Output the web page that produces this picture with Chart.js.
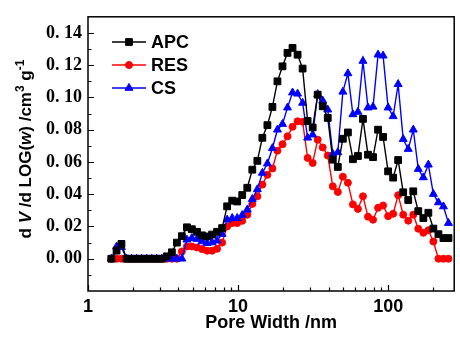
<!DOCTYPE html>
<html lang="en">
<head>
    <meta charset="UTF-8">
    <title>Pore Size Distribution</title>
    <script src="https://cdn.jsdelivr.net/npm/chart.js"></script>
    <style>
        html, body {
            margin: 0;
            padding: 0;
            background: #fff;
        }
        #chart {
            display: block;
        }
    </style>
</head>
<body>
    <canvas id="chart" width="460" height="338"></canvas>
    <script>
        // pore widths (nm)
        const poreWidth = [1.43, 1.55, 1.67, 1.81, 1.95, 2.11, 2.28, 2.46, 2.66, 2.87,
            3.10, 3.35, 3.62, 3.91, 4.22, 4.56, 4.92, 5.32, 5.75, 6.21,
            6.71, 7.24, 7.82, 8.45, 9.13, 9.86, 10.65, 11.51, 12.43, 13.43,
            14.50, 15.67, 16.92, 18.28, 19.75, 21.33, 23.04, 24.89, 26.89, 29.04,
            31.37, 33.89, 36.61, 39.54, 42.71, 46.14, 49.84, 53.84, 58.16, 62.82,
            67.86, 73.30, 79.18, 85.53, 92.39, 99.80, 107.8, 116.4, 125.8, 135.9,
            146.8, 158.5, 171.3, 185.0, 199.8, 215.9, 233.2, 251.9];

        const apc = [0, 0.005, 0.0092, 0, 0, 0, 0, 0, 0, 0,
            0, 0.0015, 0.004, 0.010, 0.014, 0.0195, 0.0183, 0.0167, 0.0145, 0.0138,
            0.015, 0.0167, 0.019, 0.0325, 0.036, 0.0355, 0.0395, 0.044, 0.0552, 0.0607,
            0.075, 0.0828, 0.0941, 0.110, 0.1193, 0.1276, 0.1307, 0.1265, 0.1179, 0.0854,
            0.0814, 0.1017, 0.0945, 0.0873, 0.0614, 0.0569, 0.0744, 0.0783, 0.0617, 0.0637,
            0.0867, 0.0645, 0.063, 0.080, 0.0755, 0.0542, 0.0503, 0.0612, 0.0412, 0.0364,
            0.0418, 0.0295, 0.0252, 0.0285, 0.0187, 0.0152, 0.0128, 0.0128];

        const res = [0, 0, 0, 0, 0, 0, 0, 0, 0, 0,
            0, 0, 0, 0, 0.0045, 0.0076, 0.0076, 0.007, 0.006, 0.005,
            0.005, 0.0062, 0.010, 0.020, 0.0221, 0.0221, 0.0235, 0.0273, 0.034, 0.0387,
            0.046, 0.052, 0.056, 0.067, 0.071, 0.0759, 0.0818, 0.0852, 0.0849, 0.0625,
            0.0594, 0.0738, 0.069, 0.064, 0.0449, 0.0414, 0.0509, 0.0471, 0.0337, 0.0309,
            0.0387, 0.0261, 0.0242, 0.0316, 0.033, 0.0264, 0.0279, 0.0394, 0.0273, 0.0236,
            0.0273, 0.0186, 0.0161, 0.0177, 0.0107, 0, 0, 0];

        const cs = [0, 0.0075, 0.0072, 0, 0, 0, 0, 0, 0, 0,
            0, 0, 0, 0, 0, 0.0118, 0.0128, 0.0122, 0.0107, 0.0097,
            0.0101, 0.0112, 0.0153, 0.0242, 0.0252, 0.0252, 0.027, 0.0304, 0.037, 0.043,
            0.0532, 0.059, 0.0685, 0.080, 0.0835, 0.0937, 0.103, 0.1023, 0.0966, 0.075,
            0.0769, 0.102, 0.098, 0.0924, 0.065, 0.066, 0.1035, 0.1149, 0.0895, 0.091,
            0.1226, 0.0937, 0.0942, 0.1265, 0.1259, 0.0937, 0.0883, 0.1082, 0.0741, 0.068,
            0.080, 0.0556, 0.0504, 0.0583, 0.0401, 0.0349, 0.0324, 0.0221];

        const seriesNames = ['APC', 'RES', 'CS'];
        const xTickValues = [1, 10, 100];
        const yTickValues = [0, 0.02, 0.04, 0.06, 0.08, 0.10, 0.12, 0.14];

        const SANS = '"Liberation Sans", Arial, sans-serif';

        const toPoints = (ys) => ys.map((y, i) => ({ x: poreWidth[i], y: y }));

        function makeSet(label, values, color, style, radius, order) {
            return {
                label: label,
                data: toPoints(values),
                borderColor: color,
                backgroundColor: color,
                borderWidth: 1.4,
                pointStyle: style,
                pointRadius: radius,
                pointBorderWidth: 1,
                pointBackgroundColor: color,
                pointBorderColor: color,
                order: order
            };
        }

        function drawMarker(ctx, style, x, y, r) {
            ctx.beginPath();
            if (style === 'rect') {
                const s = r * Math.SQRT1_2;
                ctx.rect(x - s, y - s, 2 * s, 2 * s);
            } else if (style === 'circle') {
                ctx.arc(x, y, r, 0, Math.PI * 2);
            } else {
                ctx.moveTo(x, y - r);
                ctx.lineTo(x + r * 0.866, y + r / 2);
                ctx.lineTo(x - r * 0.866, y + r / 2);
                ctx.closePath();
            }
            ctx.fill();
            ctx.stroke();
        }

        // y title with italic V, w and superscripts: [text, italic, superscript]
        const yTitleParts = [
            ['d', false, false], [' V', true, false], [' /d', false, false],
            [' LOG(', false, false], ['w', true, false], [') /cm', false, false],
            ['3', false, true], [' g', false, false], ['-1', false, true]
        ];

        function partFont(italic, sup) {
            return (italic ? 'italic ' : '') + 'bold ' + (sup ? 12 : 17) + 'px ' + SANS;
        }

        // box frame, inward ticks, y title and the legend
        const framePlugin = {
            id: 'frame',
            afterDatasetsDraw(chart) {
                const ctx = chart.ctx;
                const a = chart.chartArea;
                const xs = chart.scales.x;
                const ys = chart.scales.y;
                ctx.save();
                ctx.strokeStyle = '#000';
                ctx.lineWidth = 1.5;
                ctx.strokeRect(a.left, a.top, a.right - a.left, a.bottom - a.top);

                ctx.lineWidth = 1.2;
                ctx.beginPath();
                for (let d = 1; d <= 100; d *= 10) {
                    for (let m = 1; m <= 9; m++) {
                        const v = d * m;
                        if (v < xs.min || v > xs.max) continue;
                        const px = Math.round(xs.getPixelForValue(v)) + 0.5;
                        const len = m === 1 ? 6 : 3.5;
                        ctx.moveTo(px, a.bottom);
                        ctx.lineTo(px, a.bottom - len);
                    }
                }
                for (let k = -1; k <= 14; k++) {
                    const v = k / 100;
                    const py = Math.round(ys.getPixelForValue(v)) + 0.5;
                    const len = k % 2 === 0 ? 6 : 3.5;
                    ctx.moveTo(a.left, py);
                    ctx.lineTo(a.left + len, py);
                }
                ctx.stroke();
                ctx.restore();
            },
            afterDraw(chart) {
                const ctx = chart.ctx;
                const rows = [42, 65, 88];
                ctx.save();
                ctx.font = 'bold 18px ' + SANS;
                ctx.textBaseline = 'middle';
                chart.data.datasets.forEach((ds, i) => {
                    const y = rows[i];
                    ctx.strokeStyle = ds.borderColor;
                    ctx.fillStyle = ds.borderColor;
                    ctx.lineWidth = 1.4;
                    ctx.beginPath();
                    ctx.moveTo(112, y);
                    ctx.lineTo(146, y);
                    ctx.stroke();
                    ctx.lineWidth = 1;
                    drawMarker(ctx, ds.pointStyle, 129, y, ds.pointRadius);
                    ctx.fillStyle = '#000';
                    ctx.fillText(ds.label, 151, y + 1);
                });
                ctx.restore();

                // rotated y axis title
                ctx.save();
                let total = 0;
                yTitleParts.forEach(p => {
                    ctx.font = partFont(p[1], p[2]);
                    total += ctx.measureText(p[0]).width;
                });
                ctx.translate(31, 149);
                ctx.rotate(-Math.PI / 2);
                ctx.fillStyle = '#000';
                ctx.textBaseline = 'alphabetic';
                let x = -total / 2;
                yTitleParts.forEach(p => {
                    ctx.font = partFont(p[1], p[2]);
                    ctx.fillText(p[0], x, p[2] ? -7 : 0);
                    x += ctx.measureText(p[0]).width;
                });
                ctx.restore();
            }
        };

        const ctx = document.getElementById('chart').getContext('2d');
        new Chart(ctx, {
            type: 'line',
            data: {
                datasets: [
                    makeSet(seriesNames[0], apc, '#000000', 'rect', 4.8, 0),
                    makeSet(seriesNames[1], res, '#ff0000', 'circle', 3.5, 2),
                    makeSet(seriesNames[2], cs, '#0000ff', 'triangle', 4.6, 1)
                ]
            },
            options: {
                responsive: false,
                animation: false,
                devicePixelRatio: 1,
                layout: {
                    padding: { top: 16, right: 2, left: 0, bottom: 0 }
                },
                plugins: {
                    legend: { display: false },
                    tooltip: { enabled: false }
                },
                scales: {
                    x: {
                        type: 'logarithmic',
                        position: 'bottom',
                        min: 1,
                        max: 275,
                        grid: { display: false, drawTicks: false },
                        border: { display: false },
                        afterBuildTicks: (s) => {
                            s.ticks = xTickValues.map(v => ({ value: v }));
                        },
                        afterFit: (s) => { s.height = 47; },
                        ticks: {
                            autoSkip: false,
                            maxRotation: 0,
                            padding: 5,
                            color: '#000',
                            font: { family: SANS, weight: 'bold', size: 18 },
                            callback: (v) => String(v)
                        },
                        title: {
                            display: true,
                            text: 'Pore Width /nm',
                            color: '#000',
                            font: { family: SANS, weight: 'bold', size: 18 },
                            padding: { top: 0, bottom: 4 }
                        }
                    },
                    y: {
                        type: 'linear',
                        min: -0.02,
                        max: 0.15,
                        grid: { display: false, drawTicks: false },
                        border: { display: false },
                        afterBuildTicks: (s) => {
                            s.ticks = yTickValues.map(v => ({ value: v }));
                        },
                        afterFit: (s) => { s.width = 88; },
                        ticks: {
                            padding: 6,
                            color: '#000',
                            font: { family: '"Liberation Serif", "Times New Roman", serif', weight: 'bold', size: 18 },
                            callback: (v) => v.toFixed(2).replace('.', '. ')
                        },
                        title: { display: false }
                    }
                }
            },
            plugins: [framePlugin]
        });
    </script>
</body>
</html>
